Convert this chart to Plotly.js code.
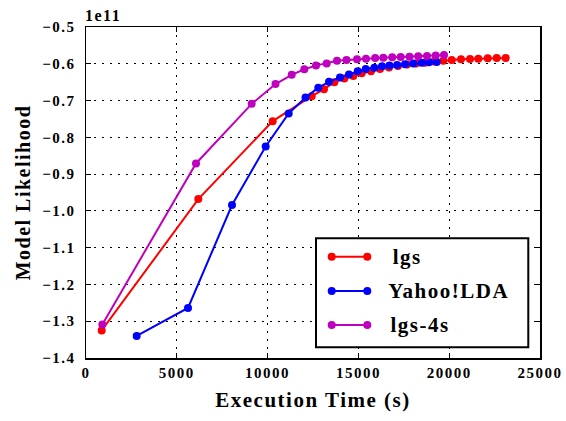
<!DOCTYPE html>
<html>
<head>
<meta charset="utf-8">
<script src="https://cdn.plot.ly/plotly-3.0.1.min.js"></script>
<style>
html,body{margin:0;padding:0;background:#fff;}
#chart{width:566px;height:421px;}
#chart svg text{letter-spacing:1.5px;}
</style>
</head>
<body>
<div id="chart"></div>
<script>
// Values in units of 1e11
const lgsX = [864, 6185, 10280, 12428, 13106, 13673, 14224, 14719, 15182, 15694, 16189, 16685, 17181, 17676, 18172, 18667, 19163, 19675, 20138, 20650, 21145, 21602, 22120, 22616, 23111];
const lgsY = [-1.325, -0.968, -0.756, -0.688, -0.669, -0.650, -0.640, -0.633, -0.626, -0.620, -0.614, -0.610, -0.606, -0.602, -0.599, -0.597, -0.594, -0.592, -0.590, -0.588, -0.587, -0.586, -0.585, -0.584, -0.584];

const yahooX = [2790, 5617, 8040, 9893, 11160, 12087, 12792, 13381, 13987, 14482, 14961, 15402, 15876, 16300, 16710, 17130, 17566, 18023, 18486, 18888, 19312];
const yahooY = [-1.340, -1.264, -0.984, -0.825, -0.735, -0.692, -0.665, -0.649, -0.637, -0.629, -0.620, -0.614, -0.611, -0.607, -0.605, -0.603, -0.601, -0.599, -0.597, -0.596, -0.595];

const lgs4sX = [900, 6057, 9124, 10435, 11327, 12021, 12665, 13254, 13821, 14344, 14923, 15418, 15925, 16371, 16861, 17329, 17814, 18293, 18777, 19256, 19714];
const lgs4sY = [-1.309, -0.871, -0.709, -0.655, -0.630, -0.615, -0.605, -0.599, -0.592, -0.590, -0.588, -0.586, -0.584, -0.5835, -0.5824, -0.5816, -0.5808, -0.5797, -0.5788, -0.5778, -0.5761];

const seriesNames = ['lgs', 'Yahoo!LDA', 'lgs-4s'];
const seriesColors = ['#ff0000', '#0000ff', '#bf00bf'];
const xs = [lgsX, yahooX, lgs4sX];
const ys = [lgsY, yahooY, lgs4sY];

const FONT = 'Liberation Serif';

const traces = seriesNames.map((n, i) => ({
  x: xs[i], y: ys[i], name: n, type: 'scatter', mode: 'lines+markers',
  showlegend: false,
  line: {color: seriesColors[i], width: 2},
  marker: {color: seriesColors[i], size: 8, line: {width: 0}}
}));

// Legend drawn as a framed box (matplotlib style: line with a dot at each end)
const legBox = {x0: 0.5066, x1: 0.9742, y0: 0.0323, y1: 0.3616};
const legRows = [0.306, 0.2024, 0.0997];
const legLine = [0.5412, 0.6196];
const legTextX = 0.6762;

const shapes = [{
  type: 'rect', xref: 'paper', yref: 'paper', layer: 'above',
  x0: legBox.x0, x1: legBox.x1, y0: legBox.y0, y1: legBox.y1,
  fillcolor: '#fff', line: {color: '#000', width: 2}
}];
const annotations = [{
  xref: 'paper', yref: 'paper', x: 0, y: 1, xanchor: 'left', yanchor: 'bottom',
  yshift: 1, showarrow: false, text: '1e11',
  font: {family: FONT, size: 16, color: '#000', weight: 'bold'}
}];
seriesNames.forEach((n, i) => {
  const yy = legRows[i];
  shapes.push({type: 'line', xref: 'paper', yref: 'paper', layer: 'above',
    x0: legLine[0], x1: legLine[1], y0: yy, y1: yy,
    line: {color: seriesColors[i], width: 2}});
  legLine.forEach(lx => shapes.push({type: 'circle', xref: 'paper', yref: 'paper', layer: 'above',
    xsizemode: 'pixel', ysizemode: 'pixel', xanchor: lx, yanchor: yy,
    x0: -4, x1: 4, y0: -4, y1: 4,
    fillcolor: seriesColors[i], line: {width: 0}}));
  annotations.push({xref: 'paper', yref: 'paper', x: legTextX, y: yy,
    xanchor: 'left', yanchor: 'middle', showarrow: false, text: n,
    font: {family: FONT, size: 21, color: '#000', weight: 'bold'}});
});

const axisCommon = {
  showline: true, linecolor: '#000', linewidth: 1.5, mirror: 'ticks',
  ticks: 'inside', ticklen: 5, tickwidth: 1, tickcolor: '#000',
  showgrid: true, gridcolor: '#000', griddash: '2px,6px', gridwidth: 1,
  zeroline: false,
  tickfont: {family: FONT, size: 15, color: '#000', weight: 'bold'}
};

const layout = {
  width: 566, height: 421,
  margin: {l: 86, r: 26, t: 27, b: 63},
  paper_bgcolor: '#fff', plot_bgcolor: '#fff',
  font: {family: FONT, color: '#000', weight: 'bold'},
  showlegend: false,
  xaxis: Object.assign({}, axisCommon, {
    range: [0, 25000], dtick: 5000, tick0: 0, tickformat: 'd',
    title: {text: 'Execution Time (s)', font: {family: FONT, size: 21, color: '#000', weight: 'bold'}, standoff: 13}
  }),
  yaxis: Object.assign({}, axisCommon, {
    range: [-1.4, -0.5], dtick: 0.1, tick0: -1.4, tickformat: '.1f',
    ticklabelstandoff: 6,
    title: {text: 'Model Likelihood', font: {family: FONT, size: 20, color: '#000', weight: 'bold'}, standoff: 12}
  }),
  shapes: shapes,
  annotations: annotations
};

Plotly.newPlot('chart', traces, layout, {displayModeBar: false, staticPlot: true});
</script>
</body>
</html>
